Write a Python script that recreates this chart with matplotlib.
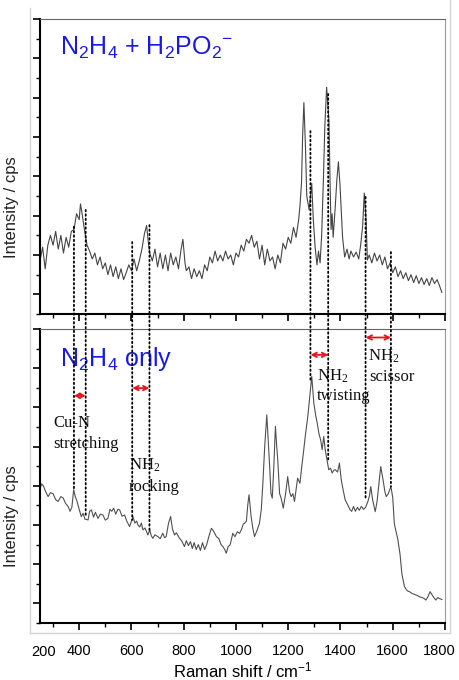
import matplotlib
matplotlib.use("Agg")
import matplotlib.pyplot as plt
from matplotlib.patches import ConnectionPatch
from matplotlib.lines import Line2D
from matplotlib.ticker import MultipleLocator
from matplotlib.transforms import ScaledTranslation

plt.rcParams['font.family'] = ['Liberation Sans', 'DejaVu Sans']
plt.rcParams['mathtext.default'] = 'regular'

# N2H4 + H2PO2- spectrum (Raman shift, intensity)
shift_top = [250, 260, 270, 280, 290, 300, 310, 320, 330, 340, 350, 360, 370, 380, 390,
             400, 405, 410, 420, 430, 440, 450, 460, 470, 480, 490, 500, 510, 520, 530,
             540, 550, 560, 570, 580, 590, 600, 610, 620, 630, 640, 650, 658, 665, 670,
             680, 690, 700, 710, 720, 730, 740, 750, 760, 770, 780, 790, 797, 805, 810,
             820, 830, 840, 850, 860, 870, 880, 890, 900, 910, 920, 930, 940, 950, 960,
             970, 980, 990, 1000, 1010, 1020, 1030, 1040, 1050, 1060, 1070, 1080, 1090,
             1100, 1110, 1120, 1130, 1140, 1150, 1160, 1170, 1180, 1190, 1200, 1210, 1220,
             1230, 1240, 1245, 1251, 1255, 1260, 1266, 1271, 1280, 1290, 1296, 1303, 1310,
             1316, 1322, 1328, 1335, 1340, 1347, 1352, 1356, 1360, 1364, 1368, 1372, 1380,
             1386, 1392, 1398, 1403, 1408, 1416, 1425, 1433, 1440, 1450, 1460, 1470, 1478,
             1485, 1491, 1498, 1503, 1510, 1520, 1530, 1540, 1550, 1560, 1570, 1580, 1590,
             1600, 1610, 1620, 1630, 1640, 1650, 1660, 1670, 1680, 1690, 1700, 1710, 1720,
             1730, 1740, 1750, 1760, 1770, 1780, 1788]
int_top = [170, 240, 130, 250, 300, 250, 320, 230, 300, 210, 290, 240, 320, 330, 410,
           380, 460, 420, 330, 250, 220, 180, 210, 150, 190, 130, 160, 100, 150, 90,
           140, 80, 130, 75, 110, 150, 120, 180, 120, 170, 230, 310, 350, 260, 210,
           170, 230, 140, 210, 130, 200, 120, 210, 150, 190, 130, 230, 280, 160, 120,
           140, 80, 130, 90, 120, 80, 150, 120, 190, 160, 220, 170, 200, 170, 220,
           180, 200, 150, 210, 190, 250, 220, 280, 260, 300, 240, 270, 180,
           250, 150, 230, 170, 190, 130, 200, 160, 260, 230, 290, 260, 340,
           290, 380, 450, 570, 800, 975, 750, 500, 430, 565, 380, 240, 150,
           220, 160, 300, 600, 850, 1053, 960, 880, 580, 330, 410, 290, 445,
           580, 674, 560, 420, 290, 190, 230, 180, 220, 190, 215, 180, 260,
           350, 515, 380, 175, 200, 160, 210, 170, 200, 150, 190, 130, 160,
           110, 140, 90, 120, 80, 110, 70, 100, 60, 95, 55, 85, 50,
           80, 45, 85, 55, 75, 40, 10]

# N2H4 only spectrum
shift_bot = [250, 256, 263, 270, 281, 290, 300, 310, 319, 330, 339, 348, 358, 365, 372,
             379, 385, 392, 400, 408, 415, 422, 434, 440, 447, 455, 462, 472, 481, 491,
             500, 510, 518, 525, 532, 540, 548, 555, 564, 574, 582, 593, 600, 606, 613,
             620, 625, 632, 638, 644, 652, 663, 670, 676, 682, 690, 701, 710, 720, 727,
             733, 742, 750, 757, 765, 772, 784, 792, 803, 810, 818, 826, 833, 840, 848,
             856, 864, 872, 880, 888, 896, 906, 914, 925, 935, 943, 950, 957, 963, 970,
             978, 988, 996, 1005, 1014, 1022, 1028, 1033, 1040, 1045, 1050, 1058, 1065,
             1071, 1080, 1090, 1097, 1103, 1110, 1118, 1124, 1129, 1134, 1139, 1145, 1151,
             1156, 1160, 1167, 1173, 1181, 1190, 1198, 1205, 1211, 1218, 1224, 1230, 1236,
             1245, 1252, 1258, 1265, 1275, 1283, 1290, 1298, 1305, 1311, 1317, 1324, 1330,
             1336, 1341, 1346, 1355, 1362, 1368, 1375, 1380, 1389, 1396, 1403, 1410, 1418,
             1425, 1437, 1443, 1450, 1457, 1465, 1472, 1480, 1488, 1496, 1505, 1511, 1516,
             1523, 1533, 1540, 1548, 1554, 1563, 1570, 1575, 1583, 1593, 1600, 1606, 1612,
             1619, 1628, 1635, 1645, 1655, 1664, 1675, 1685, 1695, 1702, 1712, 1720, 1727,
             1735, 1743, 1750, 1757, 1765, 1772, 1777, 1788]
int_bot = [580, 610, 600, 575, 545, 565, 560, 530, 520, 545, 537, 510, 494, 470, 490,
           580, 545, 520, 480, 443, 460, 430, 426, 470, 477, 440, 465, 434, 455, 451,
           425, 434, 480, 470, 486, 455, 480, 477, 445, 451, 420, 392, 420, 443, 410,
           420, 400, 390, 410, 375, 385, 349, 375, 345, 332, 350, 341, 330, 358, 335,
           341, 410, 443, 380, 349, 360, 332, 320, 290, 320, 295, 315, 280, 310, 275,
           300, 270, 310, 275, 300, 340, 383, 370, 341, 330, 300, 290, 275, 256, 290,
           300, 358, 340, 365, 358, 380, 405, 409, 420, 500, 554, 443, 380,
           341, 370, 409, 480, 613, 800, 962, 820, 698, 560, 537, 700, 903,
           800, 732, 560, 537, 486, 560, 647, 570, 545, 560, 520, 580, 639,
           613, 700, 767, 850, 954, 1060, 1158, 1022, 960, 920, 869, 835, 784,
           852, 790, 750, 682, 690, 665, 680, 682, 670, 716, 630, 580, 528,
           510, 477, 470, 495, 470, 490, 475, 495, 480, 490, 520, 550, 596,
           528, 468, 520, 620, 698, 630, 570, 545, 560, 596, 540, 409, 370,
           330, 250, 150, 85, 65, 60, 50, 45, 40, 34, 30, 25, 17,
           35, 60, 45, 30, 17, 30, 26, 20]

# dotted guide lines: position, start on top spectrum, end on bottom spectrum
guide_x = [380, 425, 603, 669, 1285, 1353, 1496, 1593]
guide_top = [344, 429, 266, 352, 830, 1019, 495, 215]
guide_bot = [579, 441, 426, 375, 1141, 733, 528, 596]

# red double arrows (x range, height in axes fraction)
arrow_x = [(380, 425), (603, 669), (1285, 1353), (1496, 1593)]
arrow_y = [0.773, 0.799, 0.912, 0.971]

fig = plt.figure(figsize=(4.59, 6.80), dpi=100)
ax1 = fig.add_axes([0.0871, 0.5382, 0.8824, 0.4338])
ax2 = fig.add_axes([0.0871, 0.0838, 0.8824, 0.4324])

# light frame around the figure content
for xs, ys in [([29.5, 29.5], [8, 633]), ([29.5, 450], [633, 633]), ([450, 450], [0, 633])]:
    fig.add_artist(Line2D([x / 459 for x in xs], [1 - y / 680 for y in ys],
                          color='#d4d4d4', lw=1.0, transform=fig.transFigure))

ax1.plot(shift_top, int_top, color='#454545', lw=0.8)
ax2.plot(shift_bot, int_bot, color='#505050', lw=0.8)

for ax in (ax1, ax2):
    ax.set_xlim(250, 1800)
    ax.set_ylim(-100, 1400)
    ax.xaxis.set_major_locator(MultipleLocator(200))
    ax.xaxis.set_minor_locator(MultipleLocator(100))
    ax.yaxis.set_major_locator(MultipleLocator(200))
    ax.yaxis.set_minor_locator(MultipleLocator(100))
    ax.tick_params(axis='both', which='major', direction='out', length=5, width=1.2, color='black')
    ax.tick_params(axis='both', which='minor', direction='out', length=3, width=1.0, color='black')
    ax.tick_params(axis='y', labelleft=False)
    ax.spines['left'].set_linewidth(1.5)
    ax.spines['bottom'].set_linewidth(1.5)
    ax.spines['top'].set_color('#666666')
    ax.spines['right'].set_color('#999999')
    ax.set_ylabel('Intensity / cps', fontsize=12, color='#222222')
    ax.yaxis.set_label_coords(-0.053, 0.364)

ax1.tick_params(axis='x', labelbottom=False)
ax2.set_xticks(range(400, 1801, 200))
ax2.tick_params(axis='x', which='major', labelsize=10.5, pad=10)
# nudge the last label left so it stays inside the figure
last = ax2.get_xticklabels()[-1]
last.set_transform(last.get_transform() + ScaledTranslation(-4 / 72, 0, fig.dpi_scale_trans))
ax2.text(0.008, -0.075, '200', transform=ax2.transAxes, ha='center', va='top', fontsize=10.5)
ax2.set_xlabel('Raman shift / cm$^{-1}$', fontsize=12, labelpad=2)

blue = '#1a1ae8'
ax1.text(0.049, 0.878, r'N$_2$H$_4$ + H$_2$PO$_2$$^{-}$', transform=ax1.transAxes,
         fontsize=18, color=blue, va='baseline')
ax2.text(0.049, 0.875, r'N$_2$H$_4$ only', transform=ax2.transAxes,
         fontsize=18, color=blue, va='baseline')

serif = ['Liberation Serif', 'DejaVu Serif']
labels = [('Cu-N', 0.032, 0.666), ('stretching', 0.032, 0.595),
          ('NH$_2$', 0.220, 0.521), ('rocking', 0.220, 0.450),
          ('NH$_2$', 0.683, 0.824), ('twisting', 0.683, 0.759),
          ('NH$_2$', 0.811, 0.892), ('scissor', 0.812, 0.824)]
for txt, x, y in labels:
    ax2.text(x, y, txt, transform=ax2.transAxes, fontsize=12, family=serif,
             va='baseline', color='#111111')

for (x0, x1), y in zip(arrow_x, arrow_y):
    ax2.annotate('', xy=(x1, y), xytext=(x0, y), xycoords=('data', 'axes fraction'),
                 arrowprops=dict(arrowstyle='<->', color='#e8141c', lw=1.3,
                                 shrinkA=0, shrinkB=0, mutation_scale=8))

for gx, gt, gb in zip(guide_x, guide_top, guide_bot):
    con = ConnectionPatch(xyA=(gx, gt), coordsA=ax1.transData,
                          xyB=(gx, gb), coordsB=ax2.transData,
                          color='black', lw=1.3, linestyle=(0, (0.8, 1.6)))
    fig.add_artist(con)

fig.savefig('out.png', dpi=100)
